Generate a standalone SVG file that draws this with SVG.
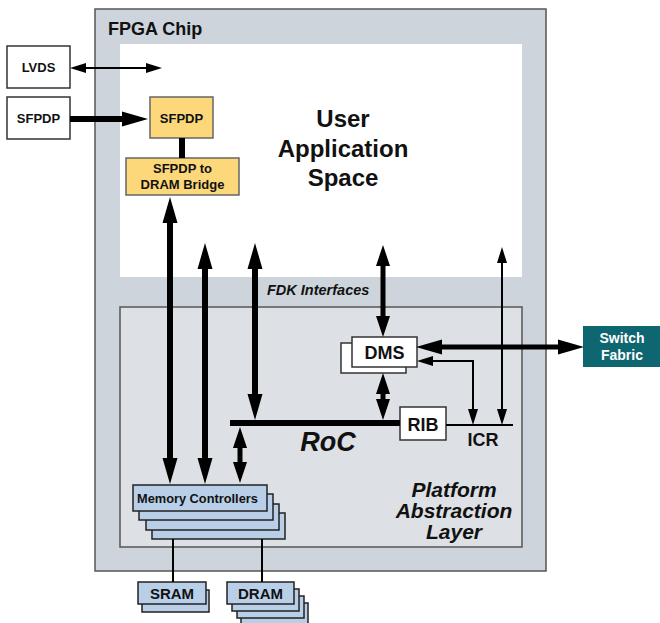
<svg xmlns="http://www.w3.org/2000/svg" width="660" height="623" viewBox="0 0 660 623">
  <style>
    text { font-family: "Liberation Sans", Arial, sans-serif; font-weight: bold; fill: #111; }
    .box { fill: #ffffff; stroke: #333; stroke-width: 1.5; }
    .yel { fill: #fcd87a; stroke: #666; stroke-width: 1.5; }
    .blu { fill: #b9cfe8; stroke: #222; stroke-width: 1.5; }
    .thick { stroke: #000; stroke-width: 6; fill: none; }
    .mid { stroke: #000; stroke-width: 5; fill: none; }
    .thin { stroke: #000; stroke-width: 2; fill: none; }
    .lbl { font-size: 13px; text-anchor: middle; }
    .ital { font-style: italic; }
  </style>
  <defs>
    <marker id="hBig" markerUnits="userSpaceOnUse" markerWidth="26" markerHeight="16" refX="0" refY="7.5" orient="auto-start-reverse" overflow="visible">
      <path d="M0,0 L26,7.5 L0,15 z" fill="#000"/>
    </marker>
    <marker id="hMid" markerUnits="userSpaceOnUse" markerWidth="21" markerHeight="15" refX="0" refY="7" orient="auto-start-reverse" overflow="visible">
      <path d="M0,0 L21,7 L0,14 z" fill="#000"/>
    </marker>
    <marker id="hThin" markerUnits="userSpaceOnUse" markerWidth="16" markerHeight="10" refX="0" refY="5" orient="auto-start-reverse" overflow="visible">
      <path d="M0,0 L16,5 L0,10 z" fill="#000"/>
    </marker>
  </defs>

  <!-- FPGA chip frame -->
  <g id="fpga">
    <rect x="95" y="9" width="451" height="562" fill="#cdd4db" stroke="#555" stroke-width="1.5"/>
    <text x="108" y="35" font-size="18">FPGA Chip</text>
  </g>

  <!-- user application region -->
  <g id="user-space">
    <rect x="120" y="44" width="402" height="233" fill="#ffffff"/>
    <text x="343" y="127" font-size="24" text-anchor="middle">User</text>
    <text x="343" y="157" font-size="24" text-anchor="middle">Application</text>
    <text x="343" y="186" font-size="24" text-anchor="middle">Space</text>
  </g>

  <g id="fdk-label">
    <text x="267" y="295" font-size="14.5" class="ital">FDK Interfaces</text>
  </g>

  <!-- platform abstraction layer -->
  <g id="pal">
    <rect x="120" y="307" width="402" height="240" fill="#dde0e4" stroke="#555" stroke-width="1.5"/>
    <text x="454" y="497" font-size="21" text-anchor="middle" class="ital">Platform</text>
    <text x="454" y="518" font-size="21" text-anchor="middle" class="ital">Abstraction</text>
    <text x="454" y="539" font-size="21" text-anchor="middle" class="ital">Layer</text>
  </g>

  <!-- external ports -->
  <g id="lvds">
    <rect class="box" x="7" y="46" width="63" height="42"/>
    <text class="lbl" x="38.5" y="72">LVDS</text>
  </g>
  <g id="sfpdp-ext">
    <rect class="box" x="7" y="97" width="63" height="42"/>
    <text class="lbl" x="38.5" y="123">SFPDP</text>
  </g>

  <g id="sfpdp-int">
    <rect class="yel" x="150" y="97" width="63" height="41"/>
    <text class="lbl" x="181.5" y="123">SFPDP</text>
  </g>
  <g id="bridge">
    <rect class="yel" x="126" y="158" width="113" height="37"/>
    <text class="lbl" x="182.5" y="173">SFPDP to</text>
    <text class="lbl" x="182.5" y="189">DRAM Bridge</text>
  </g>

  <g id="dms">
    <rect class="box" x="341" y="343" width="65" height="30"/>
    <rect class="box" x="352" y="337" width="65" height="30"/>
    <text x="384.5" y="359" font-size="18" text-anchor="middle">DMS</text>
  </g>

  <g id="rib">
    <rect class="box" x="400" y="407" width="46" height="33"/>
    <text x="423" y="431" font-size="18" text-anchor="middle">RIB</text>
  </g>

  <g id="icr">
    <line x1="446" y1="425" x2="513" y2="425" stroke="#000" stroke-width="2"/>
    <text x="483" y="446" font-size="18" text-anchor="middle">ICR</text>
  </g>

  <g id="roc">
    <line x1="230" y1="423" x2="400" y2="423" stroke="#000" stroke-width="6"/>
    <text x="328" y="451" font-size="27" text-anchor="middle" class="ital">RoC</text>
  </g>

  <g id="switch-fabric">
    <rect x="583" y="326" width="77" height="41" fill="#0e6670"/>
    <text x="622" y="343" font-size="14" text-anchor="middle" style="fill:#fff">Switch</text>
    <text x="622" y="360" font-size="14" text-anchor="middle" style="fill:#fff">Fabric</text>
  </g>

  <g id="memory-controllers">
    <rect class="blu" x="152" y="513" width="133" height="26"/>
    <rect class="blu" x="146" y="504" width="133" height="26"/>
    <rect class="blu" x="139" y="494" width="134" height="26"/>
    <rect class="blu" x="133" y="485" width="134" height="26"/>
    <text x="137" y="503" font-size="12.8">Memory Controllers</text>
  </g>

  <g id="sram">
    <rect class="blu" x="142" y="590" width="67" height="22"/>
    <rect class="blu" x="138" y="582" width="68" height="22"/>
    <text x="172" y="599" font-size="15" text-anchor="middle">SRAM</text>
  </g>

  <g id="dram">
    <rect class="blu" x="241" y="603" width="67" height="22"/>
    <rect class="blu" x="237" y="596" width="67" height="22"/>
    <rect class="blu" x="232" y="589" width="67" height="22"/>
    <rect class="blu" x="227" y="582" width="67" height="22"/>
    <text x="260.5" y="599" font-size="15" text-anchor="middle">DRAM</text>
  </g>

  <!-- connectors -->
  <g id="connectors">
    <line class="thin" x1="86" y1="68" x2="146" y2="68" marker-start="url(#hThin)" marker-end="url(#hThin)"/>
    <line class="thick" x1="70" y1="119" x2="122" y2="119" marker-end="url(#hBig)"/>
    <line class="thick" x1="182" y1="138" x2="182" y2="158"/>

    <line class="thick" x1="170" y1="223" x2="170" y2="458" marker-start="url(#hBig)" marker-end="url(#hBig)"/>
    <line class="thick" x1="205" y1="269" x2="205" y2="458" marker-start="url(#hBig)" marker-end="url(#hBig)"/>
    <line class="thick" x1="255" y1="269" x2="255" y2="394" marker-start="url(#hBig)" marker-end="url(#hBig)"/>
    <line class="mid" x1="240" y1="448" x2="240" y2="462" marker-start="url(#hMid)" marker-end="url(#hMid)"/>

    <line class="mid" x1="383" y1="266" x2="383" y2="316" marker-start="url(#hMid)" marker-end="url(#hMid)"/>
    <line class="mid" x1="383" y1="394" x2="383" y2="399" marker-start="url(#hMid)" marker-end="url(#hMid)"/>

    <line class="mid" x1="442" y1="347" x2="558" y2="347" marker-start="url(#hBig)" marker-end="url(#hBig)"/>

    <polyline class="thin" points="433,361 473,361 473,409" marker-start="url(#hThin)" marker-end="url(#hThin)"/>
    <line class="thin" x1="502" y1="263" x2="502" y2="409" marker-start="url(#hThin)" marker-end="url(#hThin)"/>

    <line x1="173" y1="539" x2="173" y2="582" stroke="#000" stroke-width="2"/>
    <line x1="262" y1="539" x2="262" y2="582" stroke="#000" stroke-width="2"/>
  </g>
</svg>
